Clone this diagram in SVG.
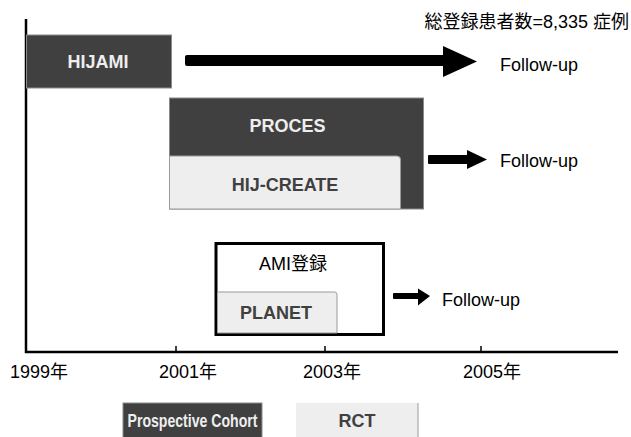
<svg xmlns="http://www.w3.org/2000/svg" width="631" height="437" viewBox="0 0 631 437">
<style>
.dark{fill:#404040;stroke:#8a8a8a;stroke-width:1}
.light{fill:#eeeeee;stroke:#9a9a9a;stroke-width:1}
.t{font-family:"Liberation Sans","Noto Sans CJK JP",sans-serif;font-size:18px;fill:#000}
.bw{font-family:"Liberation Sans",sans-serif;font-weight:bold;font-size:18px;fill:#eeeeee;text-anchor:middle}
.bd{font-family:"Liberation Sans",sans-serif;font-weight:bold;font-size:18px;fill:#404040;text-anchor:middle}
.arrow{fill:#000}
.axis{stroke:#000;stroke-width:2.5;fill:none}
</style>
<rect width="631" height="437" fill="#ffffff"/>
<g id="axes">
<path class="axis" d="M26 19 V352 H618"/>
<path stroke="#000" stroke-width="1.5" d="M176 346V352M325 346V352M481 346V352"/>
<text class="t" x="10" y="378">1999年</text>
<text class="t" x="159" y="378">2001年</text>
<text class="t" x="303" y="378">2003年</text>
<text class="t" x="463" y="378">2005年</text>
</g>
<text id="total" class="t" x="629" y="28" text-anchor="end">総登録患者数=8,335 症例</text>
<g id="hijami">
<rect class="dark" x="26.5" y="35" width="145" height="53"/>
<text class="bw" x="98" y="67.5">HIJAMI</text>
</g>
<g id="proces">
<rect class="dark" x="169.5" y="98" width="254" height="111"/>
<text class="bw" x="287.5" y="131.5">PROCES</text>
</g>
<g id="hij-create">
<path class="light" d="M169.5 156 H397 Q400.5 156 400.5 159.5 V209 H169.5 Z"/>
<text class="bd" x="285" y="190.5">HIJ-CREATE</text>
</g>
<g id="ami">
<rect x="216" y="243.5" width="167.5" height="91" fill="#fff" stroke="#000" stroke-width="3"/>
<text class="t" x="293" y="269.5" text-anchor="middle">AMI登録</text>
</g>
<g id="planet">
<path class="light" d="M217.5 292 H334.5 Q337 292 337 294.5 V333 H217.5 Z"/>
<text class="bd" x="276" y="319">PLANET</text>
</g>
<g id="connectors">
<path class="arrow" d="M187 55 H443 V46 L477 61.5 L443 77 V66 H187 Q185 66 185 64 V57 Q185 55 187 55 Z"/>
<path class="arrow" d="M429 155 H467 V150 L487 159.5 L467 169 V164 H429 Q428 164 428 163 V156 Q428 155 429 155 Z"/>
<path class="arrow" d="M394 293 H418 V288.5 L430 296 L418 305.5 V299 H394 Q393 299 393 298 V294 Q393 293 394 293 Z"/>
</g>
<g id="followups">
<text class="t" x="500" y="71">Follow-up</text>
<text class="t" x="500" y="167">Follow-up</text>
<text class="t" x="442" y="306">Follow-up</text>
</g>
<g id="legend-cohort">
<rect class="dark" x="123" y="403" width="139" height="40"/>
<text class="bw" x="192.5" y="427" font-size="16" textLength="130" lengthAdjust="spacingAndGlyphs">Prospective Cohort</text>
</g>
<g id="legend-rct">
<rect x="296" y="403" width="122" height="40" fill="#eeeeee"/>
<path d="M418 403 V437" stroke="#9a9a9a" stroke-width="1"/>
<text class="bd" x="357" y="427" font-size="16">RCT</text>
</g>
</svg>
